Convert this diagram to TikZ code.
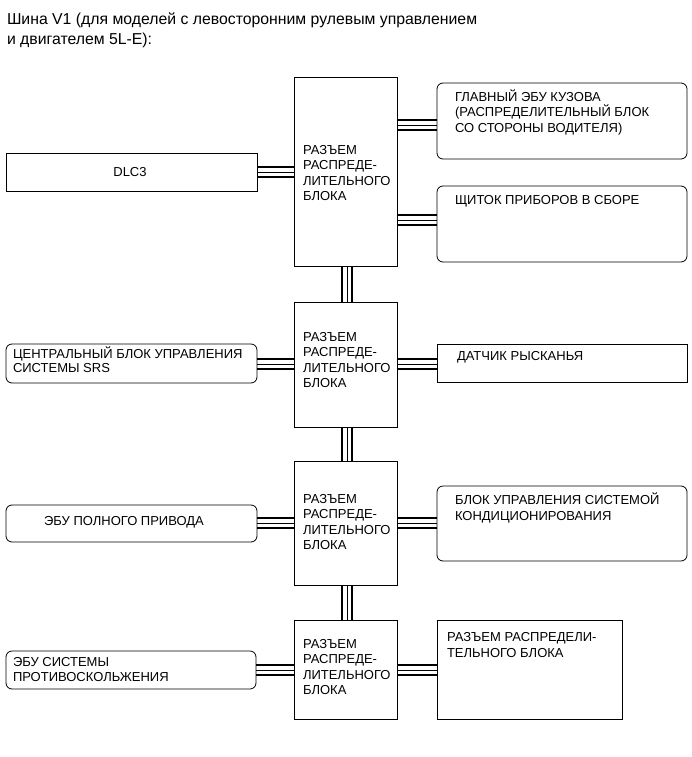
\documentclass[tikz,border=0pt]{standalone}
\usepackage{fontspec}
\setmainfont{Liberation Sans}
\begin{document}
\begin{tikzpicture}[x=1pt,y=-1pt,
  sq/.style={draw,line width=0.8pt,inner sep=0pt,outer sep=0pt,anchor=north west},
  rnd/.style={sq,rounded corners=6pt},
  txt/.style={inner sep=0pt,outer sep=0pt,align=left,font=\fontsize{13}{15.5}\selectfont},
  wa/.style={line width=1.4pt},
  wb/.style={line width=0.6pt},
  wc/.style={line width=1.9pt}]
\useasboundingbox (0,0) rectangle (691,757);
\newcommand\hbund[3]{%
  \draw[wa] (#1.east |- 0,#3-5) -- (#2.west |- 0,#3-5);
  \draw[wb] (#1.east |- 0,#3) -- (#2.west |- 0,#3);
  \draw[wc] (#1.east |- 0,#3+5) -- (#2.west |- 0,#3+5);}
\newcommand\vbund[2]{%
  \draw[wc] (#1.south -| 342,0) -- (#2.north -| 342,0);
  \draw[wb] (#1.south -| 347,0) -- (#2.north -| 347,0);
  \draw[wa] (#1.south -| 352,0) -- (#2.north -| 352,0);}
% title
\node[txt,anchor=north west,font=\fontsize{15.8}{20}\selectfont] (title) at (7,13)
  {Шина V1 (для моделей с левосторонним рулевым управлением\\и двигателем 5L-E):};
% hub boxes
\node[sq,minimum width=103pt,minimum height=189pt] (h1) at (294,77) {};
\node[sq,minimum width=103pt,minimum height=125pt] (h2) at (294,302) {};
\node[sq,minimum width=103pt,minimum height=124pt] (h3) at (294,461) {};
\node[sq,minimum width=103pt,minimum height=99pt] (h4) at (294,620) {};
% left boxes
\node[sq,minimum width=251pt,minimum height=38pt] (dlc) at (6,153) {};
\node[rnd,minimum width=251pt,minimum height=39pt] (srs) at (6,344) {};
\node[rnd,minimum width=251pt,minimum height=37pt] (awd) at (6,505) {};
\node[rnd,minimum width=250pt,minimum height=38pt] (trc) at (6,651) {};
% right boxes
\node[rnd,minimum width=250pt,minimum height=76pt] (glav) at (437,83) {};
\node[rnd,minimum width=250pt,minimum height=76pt] (shch) at (437,186) {};
\node[sq,minimum width=250pt,minimum height=38pt] (dat) at (437,344) {};
\node[rnd,minimum width=250pt,minimum height=75pt] (ac) at (437,486) {};
\node[sq,minimum width=185pt,minimum height=99pt] (raz) at (437,620) {};
% hub texts
\node[txt,anchor=west] (h1t) at (303,173) {РАЗЪЕМ\\РАСПРЕДЕ-\\ЛИТЕЛЬНОГО\\БЛОКА};
\node[txt,anchor=west] (h2t) at (303,360) {РАЗЪЕМ\\РАСПРЕДЕ-\\ЛИТЕЛЬНОГО\\БЛОКА};
\node[txt,anchor=west] (h3t) at (303,522) {РАЗЪЕМ\\РАСПРЕДЕ-\\ЛИТЕЛЬНОГО\\БЛОКА};
\node[txt,anchor=west] (h4t) at (303,667) {РАЗЪЕМ\\РАСПРЕДЕ-\\ЛИТЕЛЬНОГО\\БЛОКА};
% other texts
\node[txt] (dlct) at (130,172) {DLC3};
\node[txt,anchor=west,font=\fontsize{13}{14}\selectfont] (srst) at (13,360) {ЦЕНТРАЛЬНЫЙ БЛОК УПРАВЛЕНИЯ\\СИСТЕМЫ SRS};
\node[txt] (awdt) at (124,522) {ЭБУ ПОЛНОГО ПРИВОДА};
\node[txt,anchor=west,font=\fontsize{13}{15}\selectfont] (trct) at (13,670) {ЭБУ СИСТЕМЫ\\ПРОТИВОСКОЛЬЖЕНИЯ};
\node[txt,anchor=west] (glavt) at (455,112) {ГЛАВНЫЙ ЭБУ КУЗОВА\\(РАСПРЕДЕЛИТЕЛЬНЫЙ БЛОК\\СО СТОРОНЫ ВОДИТЕЛЯ)};
\node[txt,anchor=west] (shcht) at (455,201) {ЩИТОК ПРИБОРОВ В СБОРЕ};
\node[txt,anchor=west] (datt) at (457,357) {ДАТЧИК РЫСКАНЬЯ};
\node[txt,anchor=west] (act) at (455,508) {БЛОК УПРАВЛЕНИЯ СИСТЕМОЙ\\КОНДИЦИОНИРОВАНИЯ};
\node[txt,anchor=west] (razt) at (447,645) {РАЗЪЕМ РАСПРЕДЕЛИ-\\ТЕЛЬНОГО БЛОКА};
% connectors
\hbund{dlc}{h1}{172}
\hbund{h1}{glav}{125}
\hbund{h1}{shch}{220}
\hbund{srs}{h2}{364}
\hbund{h2}{dat}{364}
\hbund{awd}{h3}{523}
\hbund{h3}{ac}{523}
\hbund{trc}{h4}{670}
\hbund{h4}{raz}{670}
\vbund{h1}{h2}
\vbund{h2}{h3}
\vbund{h3}{h4}
\end{tikzpicture}
\end{document}
